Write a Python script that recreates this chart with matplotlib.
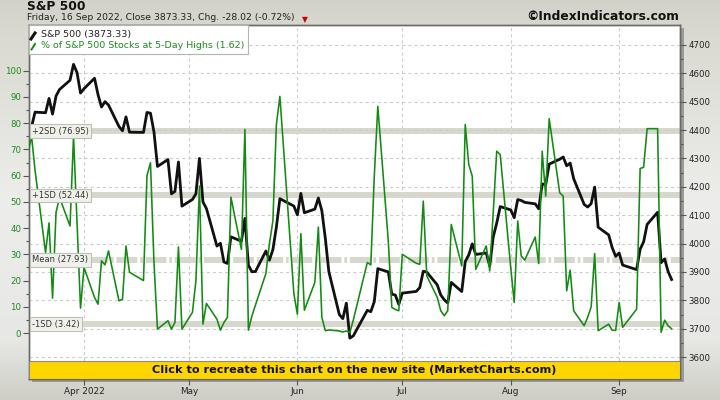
import matplotlib
matplotlib.use('Agg')
import matplotlib.pyplot as plt
import matplotlib.dates as mdates
from matplotlib.patches import Rectangle
from matplotlib.lines import Line2D
from matplotlib.transforms import blended_transform_factory
import numpy as np
import pandas as pd

plt.rcParams['font.family'] = 'DejaVu Sans'
plt.rcParams['lines.scale_dashes'] = False

# trading days shown on the chart
holidays = ['2022-04-15', '2022-05-30', '2022-06-20', '2022-07-04', '2022-09-05']
dates = pd.bdate_range('2022-03-16', '2022-09-16', freq='C', holidays=holidays)

spx_close = [
    4357.86, 4411.67, 4463.12, 4461.18, 4511.61, 4456.24, 4520.16, 4543.06, 4575.52, 4631.60, 4602.45, 4530.41,
    4545.86, 4582.64, 4525.12, 4481.15, 4500.21, 4488.28, 4412.53, 4397.45, 4446.59, 4392.59,
    4391.69, 4462.21, 4459.45, 4393.66, 4271.78, 4296.12, 4175.20, 4183.96, 4287.50, 4131.93,
    4155.38, 4175.48, 4300.17, 4146.87, 4123.34, 3991.24, 4001.05, 3935.18, 3930.08, 4023.89,
    4008.01, 4088.85, 3923.68, 3900.79, 3901.36, 3973.75, 3941.48, 3978.73, 4057.84, 4158.24, 4132.15,
    4101.23, 4176.82, 4108.54, 4121.43, 4160.68, 4115.77, 4017.82, 3900.86, 3749.63, 3735.48,
    3789.99, 3666.77, 3674.84, 3764.79, 3759.89, 3795.73, 3911.74, 3900.11, 3821.55, 3818.83, 3785.38,
    3825.33, 3831.39, 3845.08, 3902.62, 3899.38, 3854.43, 3818.80, 3801.78, 3790.38, 3863.16,
    3830.85, 3936.69, 3959.90, 3998.95, 3961.63, 3966.84, 3921.05, 4023.61, 4072.43, 4130.29,
    4118.63, 4091.19, 4155.17, 4151.94, 4145.19, 4140.06, 4122.47, 4210.24, 4207.27, 4280.15,
    4297.14, 4305.20, 4274.04, 4283.74, 4228.48, 4137.99, 4128.73, 4140.77, 4199.12, 4057.66,
    4030.61, 3986.16, 3955.00,
    3966.85, 3924.26, 3908.19, 3979.87, 4006.18, 4067.36, 4110.41, 3932.69, 3946.01, 3901.35, 3873.33,
]

pct_5day_highs = [
    68.7, 75.0, 62.0, 30.7, 42.0, 13.3, 46.0, 51.7, 40.8, 75.0, 42.0, 9.5,
    25.0, 13.6, 11.0, 27.5, 26.0, 31.3, 12.3, 12.9, 33.2, 23.2,
    20.0, 60.0, 64.9, 27.0, 1.5, 4.7, 1.5, 4.1, 32.8, 1.5,
    7.9, 20.0, 56.0, 3.4, 11.3, 5.3, 1.1, 4.0, 6.0, 51.8,
    31.9, 77.6, 1.1, 6.5, 10.6, 22.7, 34.0, 42.7, 79.5, 90.2, 15.0,
    7.2, 37.9, 8.7, 19.3, 40.4, 6.0, 0.9, 1.2, 0.8, 0.4,
    0.8, 0.2, 5.0, 26.9, 26.0, 60.0, 86.4, 35.0, 9.8, 9.0, 8.5,
    30.0, 26.6, 26.2, 50.3, 21.8, 13.6, 8.5, 6.6, 8.5, 41.4,
    25.6, 79.5, 64.3, 59.8, 24.3, 33.2, 23.7, 46.0, 69.3, 68.0,
    25.0, 11.7, 42.7, 29.4, 27.8, 36.6, 26.5, 69.3, 52.2, 81.7,
    53.5, 52.2, 16.1, 24.0, 8.5, 2.8, 6.0, 10.0, 30.3, 0.9,
    3.4, 1.1, 1.0,
    11.7, 2.2, 9.1, 62.7, 63.2, 77.9, 77.9, 0.3, 4.9, 2.8, 1.62,
]

band_names = ['+2SD', '+1SD', 'Mean', '-1SD']
band_values = [76.95, 52.44, 27.93, 3.42]

month_ticks = ['2022-04-01', '2022-05-01', '2022-06-01', '2022-07-01', '2022-08-01', '2022-09-01']
month_labels = ['Apr 2022', 'May', 'Jun', 'Jul', 'Aug', 'Sep']

GREEN = '#138a13'
GREEN_TXT = '#1c8c1c'
BAND = '#d7d7ce'
TXT = '#222222'
W, H = 720, 400


def fx(x):
    return x / W


def fy(y):
    return 1 - y / H


fig = plt.figure(figsize=(7.2, 4), dpi=100)

# grey gradient background
bg = fig.add_axes([0, 0, 1, 1], zorder=-10)
rows = np.arange(H)
top, mid, bot = np.array([210, 210, 202]), np.array([237, 237, 235]), np.array([206, 206, 198])
grad = np.zeros((H, 1, 3))
for c in range(3):
    grad[:, 0, c] = np.interp(rows, [0, 40, 200, 340, 399], [top[c], top[c] + 8, mid[c], mid[c] - 6, bot[c]]) / 255
bg.imshow(np.repeat(grad, W, axis=1), aspect='auto', extent=[0, 1, 0, 1])
bg.axis('off')

pos = [fx(29), fy(379), fx(651), (379 - 25) / H]

# shadow right / bottom of plot frame
fig.patches.append(Rectangle((fx(681), fy(382)), fx(3), (382 - 28) / H, transform=fig.transFigure,
                             fc='#9a9a96', ec='none', zorder=-5))
fig.patches.append(Rectangle((fx(32), fy(382)), fx(651), 3 / H, transform=fig.transFigure,
                             fc='#9a9a96', ec='none', zorder=-5))

ax = fig.add_axes(pos)
ax.set_facecolor('white')
ax2 = ax.twinx()
ax3 = fig.add_axes(pos, sharex=ax, sharey=ax)
ax3.patch.set_visible(False)

x0 = mdates.date2num(pd.Timestamp('2022-04-01'))
ax.set_xlim(x0 - 15.73, x0 + 170.4)
ax.set_ylim(-17.5, 117.4)
ax2.set_ylim(3522.7, 4770.3)

# left scale (percent)
ax.set_yticks(np.arange(0, 101, 10))
ax.set_yticks(np.arange(5, 101, 10), minor=True)
ax.tick_params(axis='y', which='both', direction='out', length=4, width=0.8, color='#555555',
               labelcolor=GREEN_TXT, labelsize=6.2, pad=1.5)
ax.tick_params(axis='y', which='minor', length=2)

# right scale (index)
ax2.set_yticks(np.arange(3600, 4701, 100))
ax2.set_yticks(np.arange(3650, 4701, 100), minor=True)
ax2.tick_params(axis='y', which='both', direction='out', length=4, width=0.8, color='#555555',
                labelcolor=TXT, labelsize=6.2, pad=2)
ax2.tick_params(axis='y', which='minor', length=2)
ax2.grid(axis='y', color='#cccccc', lw=0.8, dashes=(2.2, 2.2))

# month axis
ax.set_xticks([mdates.date2num(pd.Timestamp(m)) for m in month_ticks])
ax.set_xticklabels(month_labels)
ax.tick_params(axis='x', direction='out', length=4, width=0.8, color='#555555',
               labelcolor=TXT, labelsize=6.4, pad=2)
ax.grid(axis='x', color='#cccccc', lw=0.8, dashes=(2.2, 2.2))

for a in (ax, ax2):
    for s in a.spines.values():
        s.set_color('#6a6a6a')
        s.set_linewidth(1.0)

# SD bands
for name, val in zip(band_names, band_values):
    if name == 'Mean':
        ax.axhline(val, color=BAND, lw=4.3, dashes=(15, 2, 2, 2))
    else:
        ax.axhline(val, color=BAND, lw=4.3)

ax2.plot(dates, spx_close, color='#111111', lw=2.0, solid_joinstyle='round')
ax3.plot(dates, pct_5day_highs, color=GREEN, lw=1.15)
ax3.axis('off')

# band labels
btr = blended_transform_factory(ax3.transAxes, ax3.transData)
for name, val in zip(band_names, band_values):
    ax3.text(0.005, val, f'{name} ({val:.2f})', transform=btr, ha='left', va='center',
             fontsize=6.0, color='#333333',
             bbox=dict(boxstyle='square,pad=0.28', fc='#f1f1ec', ec='#c0c0b8', lw=0.8))

# yellow banner
ax3.add_patch(Rectangle((0, 0), 1, 18 / 354, transform=ax3.transAxes, fc='#ffd500',
                        ec='#8a8a80', lw=0.8, zorder=5))
ax3.text(0.5, 9 / 354, 'Click to recreate this chart on the new site (MarketCharts.com)',
         transform=ax3.transAxes, ha='center', va='center', fontsize=8.1, fontweight='bold',
         color='#111111', zorder=6)

# legend box
fig.patches.append(Rectangle((fx(29), fy(54)), fx(219), 29 / H, transform=fig.transFigure,
                             fc='white', ec='#b4b4b4', lw=0.8, zorder=20))
fig.add_artist(Line2D([fx(31), fx(35)], [fy(39), fy(33)], color='#111111', lw=2.2, zorder=21))
fig.add_artist(Line2D([fx(31.5), fx(35)], [fy(49.5), fy(44)], color=GREEN, lw=1.4, zorder=21))
fig.text(fx(41), fy(34.5), f'S&P 500 ({spx_close[-1]:.2f})', fontsize=6.8, color=TXT,
         va='center', ha='left', zorder=22)
fig.text(fx(41), fy(45.5), f'% of S&P 500 Stocks at 5-Day Highs ({pct_5day_highs[-1]:.2f})',
         fontsize=6.8, color=GREEN_TXT, va='center', ha='left', zorder=22)

# header
fig.text(fx(27), fy(6.5), 'S&P 500', fontsize=8.8, fontweight='bold', color='#111111',
         va='center', ha='left')
chg = spx_close[-1] - spx_close[-2]
fig.text(fx(27), fy(18), f'Friday, 16 Sep 2022, Close {spx_close[-1]:.2f}, Chg. {chg:.2f} '
         f'({chg / spx_close[-2] * 100:.2f}%)', fontsize=6.7, color=TXT, va='center', ha='left')
fig.text(fx(305), fy(20), '▼', fontsize=5.5, color='#cc0000', va='center', ha='center')
fig.text(fx(679), fy(17), '©IndexIndicators.com', fontsize=8.8, fontweight='bold',
         color='#111111', va='center', ha='right')

fig.savefig('out.png', dpi=100)
